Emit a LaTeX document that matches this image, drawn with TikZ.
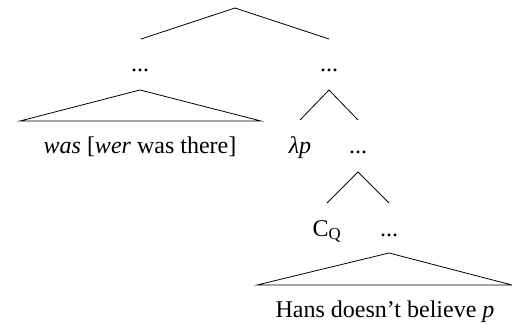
\documentclass[tikz,border=0pt]{standalone}
\usepackage{fontspec}
\setmainfont{Liberation Serif}
\begin{document}
\begin{tikzpicture}[x=1pt,y=-1pt,
  lbl/.style={font=\fontsize{24}{26}\selectfont, inner sep=0pt, anchor=base},
  edge/.style={draw=black, line width=0.8pt}]
\useasboundingbox (0,0) rectangle (512,324);
% top
\coordinate (top) at (235,8);
\node[lbl] (d1) at (140,71) {...};
\node[lbl] (d2) at (329,71) {...};
\draw[edge] (141,39) -- (top) -- (329,39);
% left triangle
\coordinate (t1) at (140,90);
\draw[edge] (20,121) -- (t1) -- (261,121) -- cycle;
\node[lbl] (w) at (140,153) {\textit{was} [\textit{wer} was there]};
% right branch
\coordinate (r1) at (329,90);
\draw[edge] (300,120) -- (r1) -- (358,120);
\node[lbl] (lp) at (300,153) {\textit{λp}};
\node[lbl] (d3) at (358,153) {...};
\coordinate (r2) at (358,172);
\draw[edge] (327,203) -- (r2) -- (389,203);
\node[lbl] (cq) at (327,236) {C\textsubscript{Q}};
\node[lbl] (d4) at (389,236) {...};
\coordinate (t2) at (389,253);
\draw[edge] (257,285) -- (t2) -- (512,285) -- cycle;
\node[lbl] (h) at (385,317) {Hans doesn't believe \textit{p}};
\end{tikzpicture}
\end{document}
